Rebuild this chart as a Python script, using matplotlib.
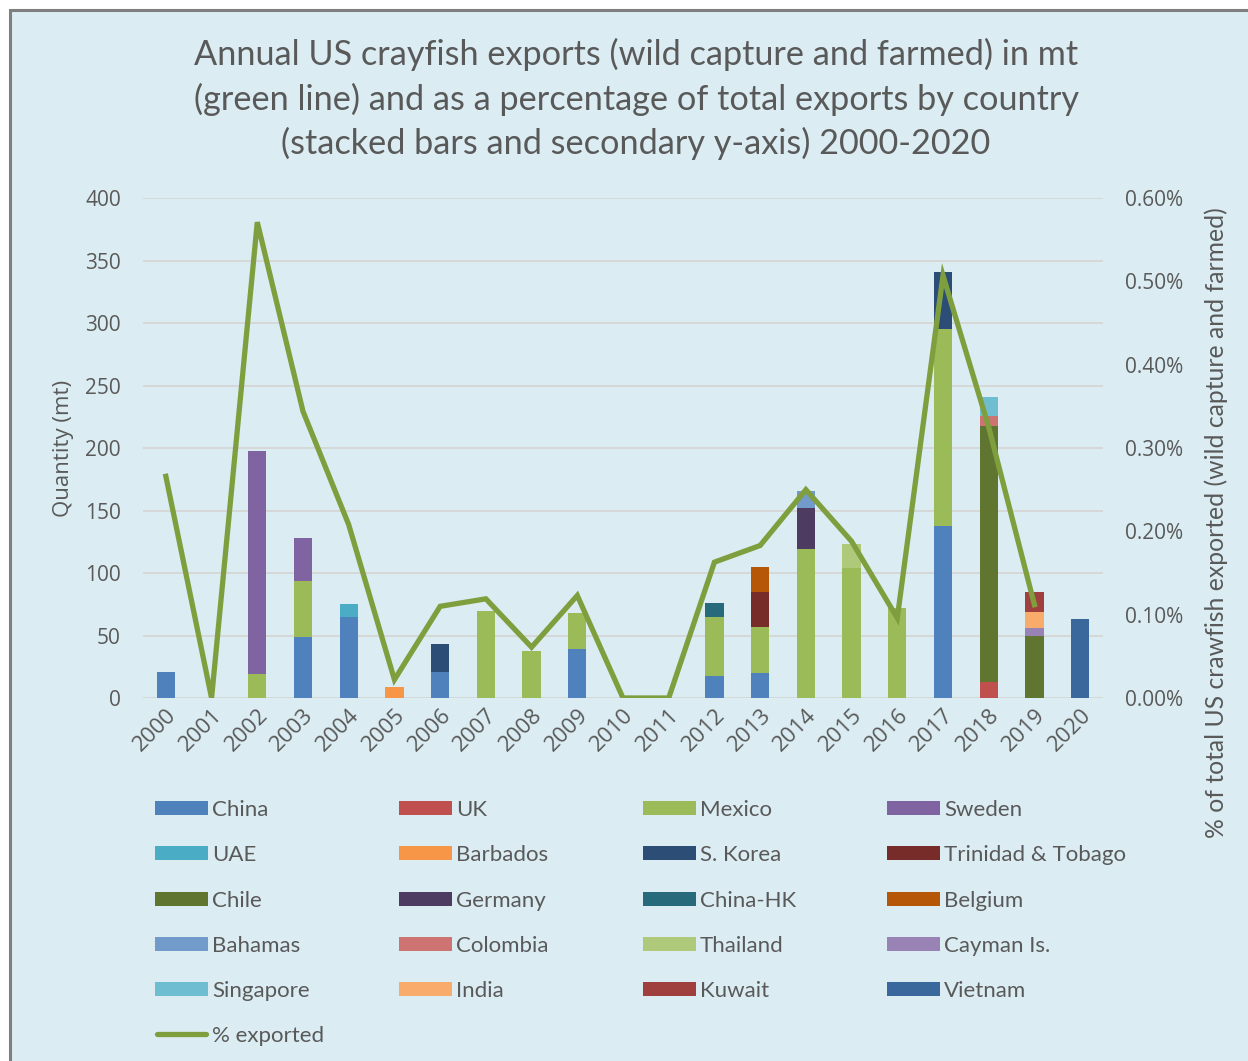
import numpy as np
import matplotlib
matplotlib.use("Agg")
import matplotlib.pyplot as plt
from matplotlib.patches import Rectangle
from matplotlib.lines import Line2D
from matplotlib.ticker import FuncFormatter

plt.rcParams["font.family"] = ["Open Sans", "DejaVu Sans"]

years = [str(y) for y in range(2000, 2021)]

# Stacked bar components (mt), index = year 2000..2020
china      = [21, 0, 0, 49, 65, 0, 21, 0, 0, 39, 0, 0, 18, 20, 0, 0, 0, 138, 0, 0, 0]
uk         = [0, 0, 0, 0, 0, 0, 0, 0, 0, 0, 0, 0, 0, 0, 0, 0, 0, 0, 13, 0, 0]
mexico     = [0, 0, 19, 45, 0, 0, 0, 70, 38, 29, 0, 0, 47, 37, 119, 104, 72, 157, 0, 0, 0]
sweden     = [0, 0, 179, 34, 0, 0, 0, 0, 0, 0, 0, 0, 0, 0, 0, 0, 0, 0, 0, 0, 0]
uae        = [0, 0, 0, 0, 10, 0, 0, 0, 0, 0, 0, 0, 0, 0, 0, 0, 0, 0, 0, 0, 0]
barbados   = [0, 0, 0, 0, 0, 9, 0, 0, 0, 0, 0, 0, 0, 0, 0, 0, 0, 0, 0, 0, 0]
s_korea    = [0, 0, 0, 0, 0, 0, 22, 0, 0, 0, 0, 0, 0, 0, 0, 0, 0, 46, 0, 0, 0]
trinidad   = [0, 0, 0, 0, 0, 0, 0, 0, 0, 0, 0, 0, 0, 28, 0, 0, 0, 0, 0, 0, 0]
chile      = [0, 0, 0, 0, 0, 0, 0, 0, 0, 0, 0, 0, 0, 0, 0, 0, 0, 0, 205, 50, 0]
germany    = [0, 0, 0, 0, 0, 0, 0, 0, 0, 0, 0, 0, 0, 0, 33, 0, 0, 0, 0, 0, 0]
china_hk   = [0, 0, 0, 0, 0, 0, 0, 0, 0, 0, 0, 0, 11, 0, 0, 0, 0, 0, 0, 0, 0]
belgium    = [0, 0, 0, 0, 0, 0, 0, 0, 0, 0, 0, 0, 0, 20, 0, 0, 0, 0, 0, 0, 0]
bahamas    = [0, 0, 0, 0, 0, 0, 0, 0, 0, 0, 0, 0, 0, 0, 14, 0, 0, 0, 0, 0, 0]
colombia   = [0, 0, 0, 0, 0, 0, 0, 0, 0, 0, 0, 0, 0, 0, 0, 0, 0, 0, 8, 0, 0]
thailand   = [0, 0, 0, 0, 0, 0, 0, 0, 0, 0, 0, 0, 0, 0, 0, 19, 0, 0, 0, 0, 0]
cayman     = [0, 0, 0, 0, 0, 0, 0, 0, 0, 0, 0, 0, 0, 0, 0, 0, 0, 0, 0, 6, 0]
singapore  = [0, 0, 0, 0, 0, 0, 0, 0, 0, 0, 0, 0, 0, 0, 0, 0, 0, 0, 15, 0, 0]
india      = [0, 0, 0, 0, 0, 0, 0, 0, 0, 0, 0, 0, 0, 0, 0, 0, 0, 0, 0, 13, 0]
kuwait     = [0, 0, 0, 0, 0, 0, 0, 0, 0, 0, 0, 0, 0, 0, 0, 0, 0, 0, 0, 16, 0]
vietnam    = [0, 0, 0, 0, 0, 0, 0, 0, 0, 0, 0, 0, 0, 0, 0, 0, 0, 0, 0, 0, 63]

# % of total exported (line, secondary axis), 2020 has no value
pct_exported = [0.266, 0.0, 0.571, 0.344, 0.208, 0.022, 0.110, 0.119, 0.061, 0.123,
                0.0, 0.0, 0.163, 0.183, 0.250, 0.188, 0.096, 0.507, 0.325, 0.112, np.nan]

series = [
    ("China", china, "#4F81BD"),
    ("UK", uk, "#C0504D"),
    ("Mexico", mexico, "#9BBB59"),
    ("Sweden", sweden, "#8064A2"),
    ("UAE", uae, "#4BACC6"),
    ("Barbados", barbados, "#F79646"),
    ("S. Korea", s_korea, "#2C4D75"),
    ("Trinidad & Tobago", trinidad, "#772C2A"),
    ("Chile", chile, "#5F7530"),
    ("Germany", germany, "#4D3B62"),
    ("China-HK", china_hk, "#276A7C"),
    ("Belgium", belgium, "#B65708"),
    ("Bahamas", bahamas, "#729ACA"),
    ("Colombia", colombia, "#CD7371"),
    ("Thailand", thailand, "#AFC97A"),
    ("Cayman Is.", cayman, "#9983B5"),
    ("Singapore", singapore, "#6FBDD1"),
    ("India", india, "#F9AB6B"),
    ("Kuwait", kuwait, "#A0403E"),
    ("Vietnam", vietnam, "#3A679C"),
]

BG = "#DBEDF3"
TXT = "#595959"
LINE_C = "#7F9F3F"
W, H = 1248, 1061

fig = plt.figure(figsize=(W / 100, H / 100), dpi=100)
fig.patch.set_facecolor("white")

# chart area background with grey border (top and left visible)
fig.add_artist(Rectangle((10 / W, -0.05), 1.1, (H - 10) / H + 0.05, transform=fig.transFigure,
                         facecolor=BG, edgecolor="#7F7F7F", linewidth=2.2, zorder=-10))

ax = fig.add_axes([143 / W, 1 - 698 / H, 960 / W, 500 / H])
ax.set_facecolor("none")
x = np.arange(len(years))
bottom = np.zeros(len(years))
for name, vals, col in series:
    v = np.array(vals, dtype=float)
    ax.bar(x, v, width=0.4, bottom=bottom, color=col, zorder=3, linewidth=0)
    bottom += v

ax.set_xlim(-0.5, len(years) - 0.5)
ax.set_ylim(0, 400)
ax.set_yticks(range(0, 401, 50))
ax.yaxis.grid(True, color="#D6D6D6", linewidth=1.3, zorder=0)
ax.set_axisbelow(True)
for s in ax.spines.values():
    s.set_visible(False)
ax.set_xticks(x)
ax.set_xticklabels(years, rotation=45, ha="right", rotation_mode="anchor")
ax.tick_params(axis="both", length=0, colors=TXT, labelsize=15)
ax.tick_params(axis="x", labelsize=16, pad=5)
ax.tick_params(axis="y", pad=16)
ax.set_ylabel("Quantity (mt)", fontsize=16, color=TXT)
ax.yaxis.set_label_coords(-0.072, 0.5)

ax2 = ax.twinx()
ax2.set_ylim(0, 0.6)
ax2.set_yticks(np.arange(0, 0.61, 0.1))
ax2.yaxis.set_major_formatter(FuncFormatter(lambda v, p: f"{v:.2f}%"))
for s in ax2.spines.values():
    s.set_visible(False)
ax2.tick_params(axis="y", length=0, colors=TXT, labelsize=15, pad=16)
ax2.plot(x, pct_exported, color=LINE_C, linewidth=3.8, zorder=5, solid_joinstyle="miter")
ax2.set_ylabel("% of total US crawfish exported (wild capture and farmed)", fontfamily="Lato",
               fontsize=17.8, color=TXT)
ax2.yaxis.set_label_coords(1.106, 0.35)

fig.text(636 / W, 1 - 99 / H,
         "Annual US crayfish exports (wild capture and farmed) in mt\n"
         "(green line) and as a percentage of total exports by country\n"
         "(stacked bars and secondary y-axis) 2000-2020",
         ha="center", va="center", fontfamily="Lato", fontsize=24.7, color=TXT, linespacing=1.42)

# legend (row-major, 4 columns)
col_x = [155, 399, 643, 887]
row_y = [808, 853, 899, 944, 989, 1034]
for i, (name, vals, col) in enumerate(series):
    r, c = divmod(i, 4)
    x0 = col_x[c]
    yc = row_y[r]
    fig.add_artist(Rectangle((x0 / W, 1 - (yc + 7) / H), 53 / W, 14 / H,
                             transform=fig.transFigure, facecolor=col, edgecolor="none"))
    fig.text((x0 + 57) / W, 1 - yc / H, name, ha="left", va="center_baseline",
             fontfamily="Lato", fontsize=16, color=TXT)
yc = row_y[5]
fig.add_artist(Line2D([157 / W, 206 / W], [1 - yc / H, 1 - yc / H], transform=fig.transFigure,
                      color=LINE_C, linewidth=3.8, solid_capstyle="round"))
fig.text(212 / W, 1 - yc / H, "% exported", ha="left", va="center_baseline",
         fontfamily="Lato", fontsize=16, color=TXT)

fig.savefig("out.png", dpi=100, facecolor=fig.get_facecolor())
